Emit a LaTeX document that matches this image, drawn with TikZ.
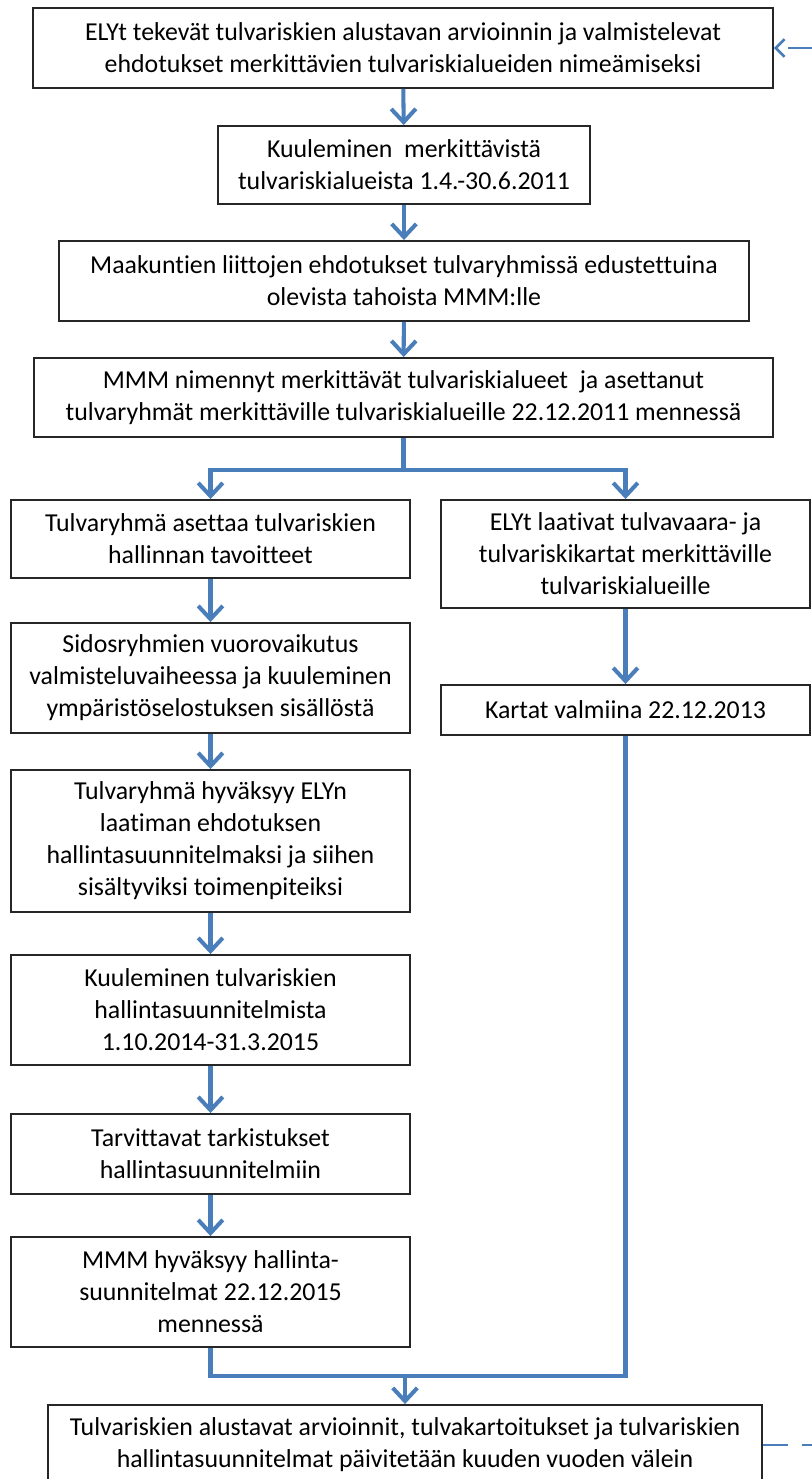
\documentclass[tikz,border=0pt]{standalone}
\usepackage{fontspec}
\setmainfont{Carlito}[Ligatures={NoCommon}]
\usepackage{xcolor}
\usetikzlibrary{arrows.meta,positioning,calc}
\definecolor{flowblue}{HTML}{4A7EBB}

\begin{document}
\begin{tikzpicture}[
    x=0.02cm, y=-0.02cm,
    step_box/.style={rectangle, draw=black!85, line width=1.1pt, fill=white, inner sep=0pt, align=center, font=\fontsize{14.7}{18.2}\selectfont},
    flow_line/.style={line width=2.3pt, draw=flowblue},
    flow_arrow/.style={flow_line, -{Straight Barb[length=7.5pt,width=14pt]}},
    feedback_edge/.style={line width=1.5pt, draw=flowblue, dash pattern=on 14pt off 8pt, -{Straight Barb[length=5pt,width=10pt]}}
]
    \useasboundingbox (0,0) rectangle (811,1479);

    \node[step_box, minimum width=14.80cm, minimum height=1.60cm] (start) at (403,48) {ELYt tekevät tulvariskien alustavan arvioinnin ja valmistelevat\\ehdotukset merkittävien tulvariskialueiden nimeämiseksi};
    \node[step_box, minimum width=7.44cm, minimum height=1.56cm] (hearing) at (404,165) {Kuuleminen\ \ merkittävistä\\tulvariskialueista 1.4.-30.6.2011};
    \node[step_box, minimum width=13.80cm, minimum height=1.60cm] (regions) at (404,281) {Maakuntien liittojen ehdotukset tulvaryhmissä edustettuina\\olevista tahoista MMM:lle};
    \node[step_box, minimum width=14.78cm, minimum height=1.58cm] (named) at (403.5,397.5) {MMM nimennyt merkittävät tulvariskialueet\ \ ja asettanut\\tulvaryhmät merkittäville tulvariskialueille 22.12.2011 mennessä};

    \node[step_box, minimum width=7.98cm, minimum height=1.56cm] (goals) at (210.5,539) {Tulvaryhmä asettaa tulvariskien\\hallinnan tavoitteet};
    \node[step_box, minimum width=7.98cm, minimum height=2.20cm] (dialog) at (210.5,678) {Sidosryhmien vuorovaikutus\\valmisteluvaiheessa ja kuuleminen\\ympäristöselostuksen sisällöstä};
    \node[step_box, minimum width=7.98cm, minimum height=2.84cm] (approve) at (210.5,841) {Tulvaryhmä hyväksyy ELYn\\laatiman ehdotuksen\\hallintasuunnitelmaksi ja siihen\\sisältyviksi toimenpiteiksi};
    \node[step_box, minimum width=7.98cm, minimum height=2.20cm] (consult) at (210.5,1010) {Kuuleminen tulvariskien\\hallintasuunnitelmista\\1.10.2014-31.3.2015};
    \node[step_box, minimum width=7.98cm, minimum height=1.60cm] (revise) at (210.5,1154) {Tarvittavat tarkistukset\\hallintasuunnitelmiin};
    \node[step_box, minimum width=7.98cm, minimum height=2.20cm] (plans) at (210.5,1292) {MMM hyväksyy hallinta-\\suunnitelmat 22.12.2015\\mennessä};

    \node[step_box, minimum width=7.38cm, minimum height=2.16cm] (maps) at (625.5,554) {ELYt laativat tulvavaara- ja\\tulvariskikartat merkittäville\\tulvariskialueille};
    \node[step_box, minimum width=7.38cm, minimum height=1.00cm] (ready) at (625.5,710) {Kartat valmiina 22.12.2013};

    \node[step_box, minimum width=14.28cm, minimum height=1.60cm] (update) at (405,1445) {Tulvariskien alustavat arvioinnit, tulvakartoitukset ja tulvariskien\\hallintasuunnitelmat päivitetään kuuden vuoden välein};

    \coordinate (split) at (403.5,470);
    \coordinate (join) at (405,1376);

    \draw[flow_arrow] (start) -- (hearing);
    \draw[flow_arrow] (hearing) -- (regions);
    \draw[flow_arrow] (regions) -- (named);
    \draw[flow_line] (named.south) -- (split);
    \draw[flow_arrow] (split) -| (goals.north);
    \draw[flow_arrow] (split) -| (maps.north);

    \draw[flow_arrow] (goals) -- (dialog);
    \draw[flow_arrow] (dialog) -- (approve);
    \draw[flow_arrow] (approve) -- (consult);
    \draw[flow_arrow] (consult) -- (revise);
    \draw[flow_arrow] (revise) -- (plans);
    \draw[flow_arrow] (maps) -- (ready);

    \draw[flow_line] (plans.south) |- (join);
    \draw[flow_line] (ready.south) |- (join);
    \draw[flow_arrow] (join) -- (update.north);

    \draw[feedback_edge] (update.east) -- ++(80,0) |- (start.east);
\end{tikzpicture}
\end{document}
